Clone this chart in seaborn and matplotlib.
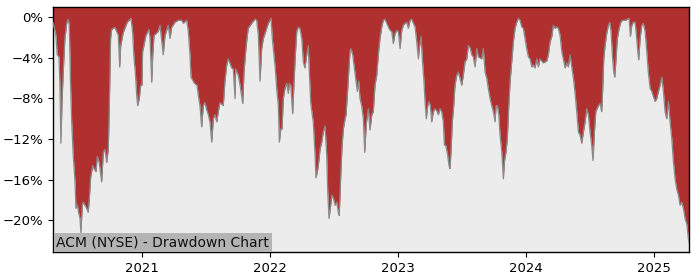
import numpy as np
import pandas as pd
import matplotlib
matplotlib.use("Agg")
import matplotlib.pyplot as plt
import matplotlib.dates as mdates
from matplotlib.ticker import PercentFormatter, FixedLocator
import seaborn as sns

# Dates as decimal years, drawdown in percent
years = [
    2020.305, 2020.328, 2020.338, 2020.352, 2020.359, 2020.367, 2020.375, 2020.385, 2020.398, 2020.412,
    2020.424, 2020.432, 2020.443, 2020.451, 2020.463, 2020.477, 2020.484, 2020.495, 2020.505, 2020.516,
    2020.523, 2020.534, 2020.541, 2020.555, 2020.568, 2020.580, 2020.588, 2020.599, 2020.615, 2020.625,
    2020.641, 2020.651, 2020.666, 2020.685, 2020.698, 2020.711, 2020.724, 2020.737, 2020.745, 2020.755,
    2020.763, 2020.789, 2020.815, 2020.826, 2020.834, 2020.854, 2020.885, 2020.914, 2020.927, 2020.938,
    2020.948, 2020.959, 2020.966, 2020.979, 2020.990, 2021.000, 2021.005, 2021.031, 2021.055, 2021.063,
    2021.076, 2021.084, 2021.094, 2021.127, 2021.141, 2021.166, 2021.180, 2021.205, 2021.219, 2021.232,
    2021.258, 2021.284, 2021.310, 2021.323, 2021.349, 2021.362, 2021.375, 2021.383, 2021.409, 2021.430,
    2021.440, 2021.453, 2021.466, 2021.479, 2021.492, 2021.505, 2021.518, 2021.531, 2021.545, 2021.557,
    2021.570, 2021.584, 2021.596, 2021.609, 2021.635, 2021.648, 2021.662, 2021.674, 2021.701, 2021.713,
    2021.727, 2021.732, 2021.752, 2021.766, 2021.787, 2021.797, 2021.810, 2021.820, 2021.830, 2021.857,
    2021.883, 2021.896, 2021.909, 2021.922, 2021.935, 2021.948, 2021.974, 2021.987, 2022.008, 2022.018,
    2022.031, 2022.041, 2022.052, 2022.065, 2022.073, 2022.084, 2022.094, 2022.104, 2022.117, 2022.130,
    2022.143, 2022.151, 2022.162, 2022.177, 2022.188, 2022.198, 2022.209, 2022.221, 2022.234, 2022.248,
    2022.260, 2022.273, 2022.287, 2022.299, 2022.307, 2022.318, 2022.330, 2022.338, 2022.352, 2022.359,
    2022.370, 2022.380, 2022.391, 2022.404, 2022.416, 2022.430, 2022.443, 2022.451, 2022.461, 2022.474,
    2022.484, 2022.495, 2022.508, 2022.521, 2022.534, 2022.541, 2022.552, 2022.563, 2022.573, 2022.586,
    2022.594, 2022.604, 2022.615, 2022.625, 2022.633, 2022.646, 2022.656, 2022.672, 2022.682, 2022.693,
    2022.703, 2022.716, 2022.729, 2022.740, 2022.752, 2022.768, 2022.781, 2022.795, 2022.807, 2022.820,
    2022.834, 2022.846, 2022.859, 2022.873, 2022.885, 2022.898, 2022.912, 2022.924, 2022.938, 2022.951,
    2022.963, 2022.977, 2022.990, 2023.002, 2023.016, 2023.029, 2023.041, 2023.055, 2023.068, 2023.080,
    2023.094, 2023.107, 2023.120, 2023.133, 2023.146, 2023.159, 2023.166, 2023.180, 2023.190, 2023.201,
    2023.211, 2023.221, 2023.232, 2023.242, 2023.252, 2023.263, 2023.276, 2023.289, 2023.302, 2023.315,
    2023.328, 2023.341, 2023.354, 2023.362, 2023.373, 2023.388, 2023.398, 2023.406, 2023.414, 2023.424,
    2023.435, 2023.445, 2023.459, 2023.471, 2023.484, 2023.498, 2023.510, 2023.523, 2023.537, 2023.549,
    2023.563, 2023.576, 2023.588, 2023.602, 2023.615, 2023.627, 2023.654, 2023.666, 2023.680, 2023.693,
    2023.705, 2023.719, 2023.732, 2023.745, 2023.758, 2023.766, 2023.776, 2023.787, 2023.797, 2023.810,
    2023.823, 2023.831, 2023.844, 2023.854, 2023.865, 2023.875, 2023.888, 2023.901, 2023.914, 2023.927,
    2023.940, 2023.953, 2023.966, 2023.979, 2023.992, 2024.005, 2024.018, 2024.031, 2024.045, 2024.057,
    2024.070, 2024.084, 2024.096, 2024.109, 2024.135, 2024.162, 2024.174, 2024.188, 2024.201, 2024.213,
    2024.227, 2024.240, 2024.252, 2024.266, 2024.279, 2024.291, 2024.305, 2024.318, 2024.330, 2024.344,
    2024.357, 2024.370, 2024.383, 2024.396, 2024.409, 2024.422, 2024.435, 2024.448, 2024.461, 2024.474,
    2024.487, 2024.500, 2024.513, 2024.523, 2024.534, 2024.545, 2024.555, 2024.565, 2024.578, 2024.591,
    2024.599, 2024.607, 2024.617, 2024.630, 2024.643, 2024.654, 2024.664, 2024.674, 2024.685, 2024.693,
    2024.703, 2024.713, 2024.727, 2024.740, 2024.752, 2024.779, 2024.791, 2024.805, 2024.815, 2024.826,
    2024.838, 2024.852, 2024.862, 2024.873, 2024.880, 2024.891, 2024.904, 2024.916, 2024.930, 2024.943,
    2024.955, 2024.969, 2024.982, 2024.995, 2025.008, 2025.021, 2025.034, 2025.047, 2025.060, 2025.073,
    2025.086, 2025.099, 2025.112, 2025.125, 2025.138, 2025.151, 2025.164, 2025.177, 2025.190, 2025.203,
    2025.216, 2025.229, 2025.242, 2025.256, 2025.268, 2025.273,
]
drawdown = [
    -0.5, -1.8, -3.7, -3.9, -6.7, -12.4, -8.4, -5.4, -2.1, -0.6,
    -0.2, -0.8, -7.0, -10.3, -13.6, -16.2, -18.8, -18.5, -19.2, -19.8,
    -21.2, -18.5, -18.2, -18.5, -18.8, -19.2, -18.0, -15.8, -14.6, -14.9,
    -15.2, -13.7, -14.3, -16.2, -13.3, -13.0, -14.3, -13.0, -8.7, -2.1,
    -1.2, -1.0, -1.8, -4.9, -2.8, -1.5, -0.5, -0.1, -1.5, -4.1,
    -5.4, -7.7, -8.7, -8.0, -6.7, -6.7, -3.4, -1.8, -1.2, -2.1,
    -6.4, -3.8, -1.8, -1.4, -0.8, -3.7, -1.8, -0.8, -2.1, -1.0,
    -0.5, -0.3, -0.3, -0.6, -0.3, -1.4, -3.7, -5.9, -6.5, -6.7,
    -7.7, -8.7, -10.8, -8.7, -8.4, -9.1, -9.6, -10.3, -12.3, -10.0,
    -9.6, -10.3, -9.3, -8.4, -8.7, -6.3, -4.7, -4.1, -5.0, -5.1,
    -8.0, -5.1, -5.7, -6.7, -8.5, -5.4, -3.4, -2.1, -1.1, -0.6,
    -0.2, -0.3, -1.8, -6.3, -3.1, -2.1, -1.1, -0.6, -0.1, -2.1,
    -3.7, -5.0, -7.0, -8.7, -12.3, -11.0, -11.0, -8.0, -7.0, -6.5,
    -7.5, -6.5, -6.7, -9.5, -6.3, -3.7, -1.4, -1.0, -1.1, -2.1,
    -4.4, -5.0, -3.7, -2.8, -5.4, -8.4, -9.6, -10.3, -13.6, -15.8,
    -15.2, -14.3, -13.0, -12.3, -11.3, -10.7, -13.6, -17.2, -19.8, -18.5,
    -17.5, -17.8, -18.5, -18.2, -19.2, -19.5, -15.8, -12.6, -11.0, -10.0,
    -9.6, -7.7, -5.4, -3.3, -3.1, -3.7, -4.7, -6.3, -7.3, -6.3,
    -8.0, -8.7, -10.0, -13.3, -10.5, -9.0, -11.1, -9.6, -9.3, -6.7,
    -5.7, -3.7, -2.1, -0.95, -0.3, -0.2, -0.6, -0.95, -1.3, -1.4,
    -2.6, -1.6, -1.3, -1.4, -3.1, -1.3, -0.8, -0.6, -0.5, -1.1,
    -0.3, -0.2, -0.6, -0.95, -2.4, -4.1, -3.1, -1.9, -4.1, -6.0,
    -8.3, -10.0, -8.7, -8.3, -8.7, -10.3, -9.3, -9.0, -9.2, -9.6,
    -9.0, -9.3, -10.3, -12.6, -12.6, -13.6, -14.6, -14.9, -13.2, -10.3,
    -8.7, -6.7, -5.7, -5.4, -6.0, -6.7, -5.7, -4.4, -4.1, -2.8,
    -3.0, -3.7, -3.9, -4.9, -3.1, -3.9, -4.1, -3.1, -5.4, -6.0,
    -7.0, -8.0, -8.7, -9.3, -10.3, -8.7, -8.7, -9.6, -11.6, -13.2,
    -15.9, -14.2, -13.2, -11.9, -8.7, -6.4, -4.4, -2.4, -1.1, -0.5,
    -0.1, -0.3, -0.95, -1.1, -2.1, -3.1, -3.9, -4.1, -4.9, -4.7,
    -5.0, -4.1, -4.9, -4.1, -4.5, -4.3, -3.7, -2.4, -1.9, -0.8,
    -1.1, -0.95, -1.1, -1.8, -3.4, -4.1, -5.0, -4.5, -4.9, -3.7,
    -4.9, -6.0, -7.5, -9.3, -11.3, -11.6, -12.4, -11.3, -10.3, -9.0,
    -9.6, -11.3, -12.6, -14.1, -11.3, -9.3, -9.0, -8.7, -8.5, -9.3,
    -7.0, -4.1, -2.8, -1.6, -0.8, -0.5, -1.4, -3.7, -5.4, -5.9,
    -4.1, -2.1, -1.1, -0.5, -0.3, -0.3, -0.2, -0.1, -1.9, -0.8,
    -0.5, -0.5, -1.8, -3.4, -4.2, -2.1, -0.8, -0.6, -1.4, -3.4,
    -5.4, -7.0, -7.3, -7.8, -8.3, -8.0, -7.3, -6.7, -5.9, -7.3,
    -9.3, -10.0, -8.3, -10.3, -11.9, -14.2, -15.9, -16.9, -17.5, -18.5,
    -18.2, -18.8, -19.8, -20.4, -21.8, -22.2,
]
y_ticks = [0, -4, -8, -12, -16, -20]
title_text = "ACM (NYSE) - Drawdown Chart"

yrs = np.array(years)
dates = pd.Timestamp("2021-01-01") + pd.to_timedelta((yrs - 2021) * 365.25, unit="D")
df = pd.DataFrame({"date": dates, "drawdown": drawdown})

sns.set_style("white")
plt.rcParams["font.family"] = ["DejaVu Sans"]

fig = plt.figure(figsize=(7, 2.8), dpi=100)
ax = fig.add_axes([0.0757, 0.1, 0.9086, 0.875])
ax.set_facecolor("#ececec")

y_top, y_bot = 1.0, -23.1
ax.set_ylim(y_bot, y_top)
ax.fill_between(df["date"], df["drawdown"], y_top, color="#b03030", linewidth=0, zorder=2)
sns.lineplot(data=df, x="date", y="drawdown", ax=ax, color="#8a8a8a", linewidth=0.9, zorder=3)

ax.set_xlim(df["date"].iloc[0], df["date"].iloc[-1])
ax.xaxis.set_major_locator(mdates.YearLocator())
ax.xaxis.set_major_formatter(mdates.DateFormatter("%Y"))
ax.yaxis.set_major_locator(FixedLocator(y_ticks))
ax.yaxis.set_major_formatter(PercentFormatter(decimals=0))
ax.set_xlabel("")
ax.set_ylabel("")
ax.tick_params(axis="both", which="major", labelsize=9.5, length=3.5, width=0.8,
               colors="black", bottom=True, left=True)
for s in ax.spines.values():
    s.set_visible(True)
    s.set_color("black")
    s.set_linewidth(1.0)

ax.text(0.005, 0.012, title_text, transform=ax.transAxes, fontsize=10, color="#111111",
        ha="left", va="bottom", zorder=5,
        bbox=dict(boxstyle="square,pad=0.18", facecolor="#b4b4b4", edgecolor="none"))

fig.savefig("out.png", dpi=100)
